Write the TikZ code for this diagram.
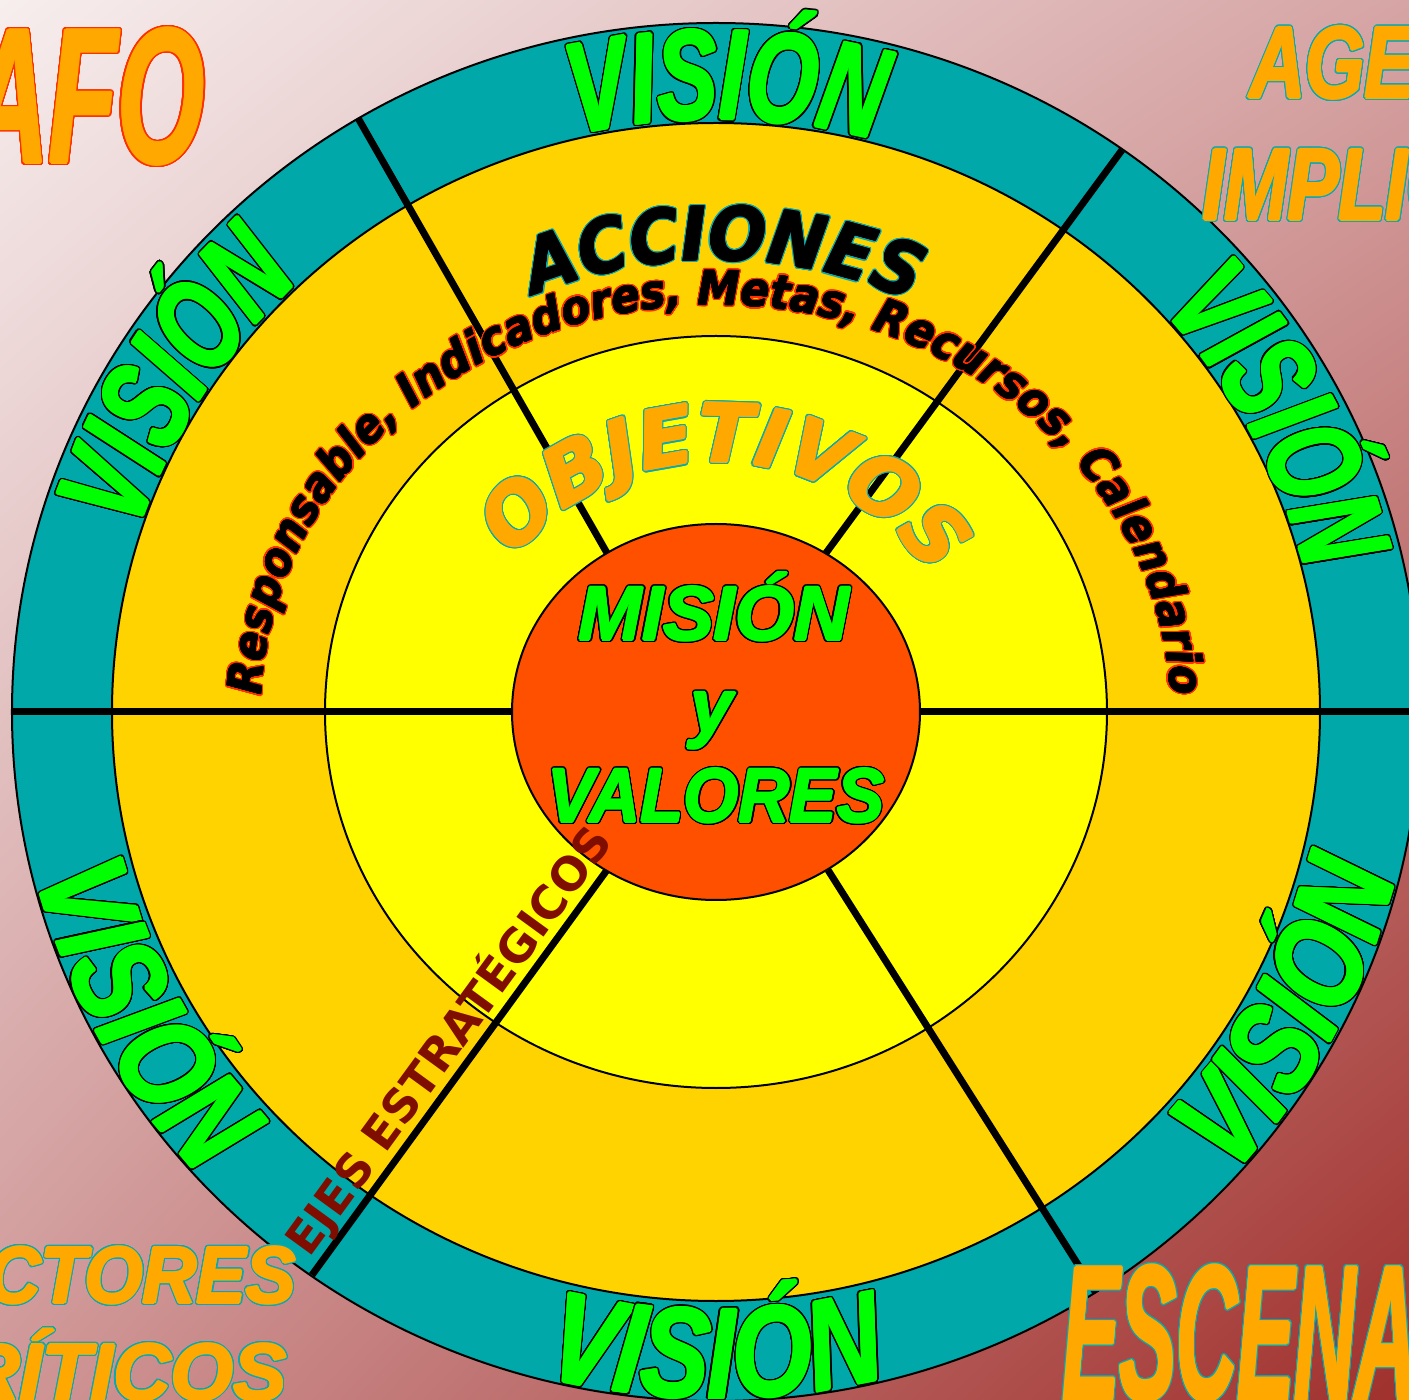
\documentclass[tikz,border=0pt]{standalone}
\usepackage{fontspec}
\usepackage{contour}
\usetikzlibrary{decorations.text,shadings}
\setmainfont{Liberation Sans}
\newfontfamily\lsans{Liberation Sans}
\newfontfamily\visfam[FakeStretch=0.70]{Liberation Sans}
\newfontfamily\visfamb[FakeStretch=0.80]{Liberation Sans}
\newfontfamily\dvs{DejaVu Sans}
\newfontfamily\dvsr[FakeStretch=0.9]{DejaVu Sans}
\newfontfamily\dvsb[FakeStretch=0.92]{DejaVu Sans}
\newfontfamily\cnda[FakeStretch=0.58]{Liberation Sans}
\newfontfamily\cndb[FakeStretch=0.75]{Liberation Sans}
\newfontfamily\cndc[FakeStretch=0.44]{Liberation Sans}
\newfontfamily\cndd[FakeStretch=0.93]{Liberation Sans}
\newfontfamily\cnde[FakeStretch=1.0]{Liberation Sans}
\definecolor{ringteal}{HTML}{00A8AA}
\definecolor{ringgold}{HTML}{FFD300}
\definecolor{ringyellow}{HTML}{FFFF00}
\definecolor{corered}{HTML}{FF5000}
\definecolor{vgreen}{HTML}{00FF00}
\definecolor{lorange}{HTML}{FFA800}
\definecolor{olredc}{HTML}{FF3000}
\definecolor{oltealc}{HTML}{0AA8B0}
\definecolor{ejred}{HTML}{800E00}
\definecolor{bgtl}{HTML}{F7EEEE}
\definecolor{bgtr}{HTML}{D6A4A4}
\definecolor{bgbl}{HTML}{CF9696}
\definecolor{bgbr}{HTML}{A0302C}
% thicken a text in the current colour
\newlength\thkl
\newsavebox\thkbox
\newcommand\thkcopy[2]{\rlap{\kern#1\raisebox{#2}{\usebox\thkbox}}}
\newcommand\thk[2]{\begingroup\sbox\thkbox{#2}\setlength\thkl{#1}%
  \thkcopy{\thkl}{0pt}\thkcopy{-\thkl}{0pt}\thkcopy{0pt}{\thkl}\thkcopy{0pt}{-\thkl}%
  \thkcopy{0.7\thkl}{0.7\thkl}\thkcopy{-0.7\thkl}{0.7\thkl}%
  \thkcopy{0.7\thkl}{-0.7\thkl}\thkcopy{-0.7\thkl}{-0.7\thkl}%
  \usebox\thkbox\endgroup}
\newcommand\olblack[1]{\contourlength{1.3pt}\contour{black}{\thk{1.4pt}{#1}}}
\newcommand\olblackc[1]{\contourlength{1.3pt}\contour{black}{\thk{1.1pt}{#1}}}
\newcommand\olred[1]{\contourlength{1.4pt}\contour{olredc}{\thk{0.5pt}{#1}}}
\newcommand\olteal[1]{\contourlength{1.1pt}\contour{oltealc}{\thk{1.3pt}{#1}}}
\newcommand\oltealthin[1]{\contourlength{1.1pt}\contour{oltealc}{\thk{0.8pt}{#1}}}
\newcommand\vistop[1]{%
  \path[decorate, decoration={text effects along path, text={VISIÓN}, text align=center,
     text effects/.cd, text along path, character command=\olblack,
     characters={text=vgreen, font=\visfam\bfseries\itshape\fontsize{128}{128}\selectfont}}]
    ({#1+38}:607 and 593) arc[start angle={#1+38}, end angle={#1-38}, x radius=607, y radius=593];}
\newcommand\visbot[1]{%
  \path[decorate, decoration={text effects along path, text={VISIÓN}, text align=center,
     text effects/.cd, text along path, character command=\olblack,
     characters={text=vgreen, font=\visfamb\bfseries\itshape\fontsize{128}{128}\selectfont}}]
    ({#1-40}:700 and 686) arc[start angle={#1-40}, end angle={#1+40}, x radius=700, y radius=686];}
\begin{document}
\begin{tikzpicture}[x=1pt,y=1pt,
  ring/.style={draw=black, line width=2pt},
  spoke/.style={line width=7pt, draw=black},
  corner/.style={inner sep=0pt, anchor=base west}]
\useasboundingbox (-716,-688) rectangle (693,712);
\shade[upper left=bgtl, upper right=bgtr, lower left=bgbl, lower right=bgbr]
  (-716,-688) rectangle (693,712);
% rings
\draw[ring, fill=ringteal] (0,0) ellipse[x radius=704, y radius=689];
\draw[ring, fill=ringgold] (0,0) ellipse[x radius=604, y radius=589];
\draw[ring, fill=ringyellow] (0,0) ellipse[x radius=391, y radius=376];
% spokes
\coordinate (lo) at (-704,0); \coordinate (li) at (-204,0);
\coordinate (ro) at (704,0);  \coordinate (ri) at (204,0);
\coordinate (ulo) at (-358,594); \coordinate (uli) at (-109,159);
\coordinate (uro) at (406,562);  \coordinate (uri) at (110,159);
\coordinate (llo) at (-404,-563); \coordinate (lli) at (-109,-158);
\coordinate (lro) at (380,-581); \coordinate (lri) at (112,-158);
\draw[spoke] (lo) -- (li);
\draw[spoke] (ri) -- (ro);
\draw[spoke] (uli) -- (ulo);
\draw[spoke] (uri) -- (uro);
\draw[spoke] (lli) -- (llo);
\draw[spoke] (lri) -- (lro);
% core
\draw[ring, fill=corered] (0,0) ellipse[x radius=204, y radius=188];
% VISION labels
\vistop{89}
\vistop{148}
\vistop{28}
\visbot{208}
\visbot{270}
\visbot{332}
% ACCIONES
\path[decorate, decoration={text effects along path, text={ACCIONES}, text align=center,
   text effects/.cd, text along path, character command=\oltealthin,
   characters={text=black, font=\dvsb\bfseries\itshape\fontsize{74}{74}\selectfont}}]
  (130:468 and 452) arc[start angle=130, end angle=48, x radius=468, y radius=452];
% Responsable ...
\path[decorate, decoration={text effects along path,
   text={Responsable, Indicadores, Metas, Recursos, Calendario}, text align=center,
   text effects/.cd, text along path, character command=\olred,
   characters={text=black, font=\dvsr\bfseries\itshape\fontsize{47}{47}\selectfont}}]
  (180:455 and 407) arc[start angle=180, end angle=0, x radius=455, y radius=407];
% OBJETIVOS
\path[decorate, decoration={text effects along path, text={OBJETIVOS}, text align=center,
   text effects/.cd, text along path, character command=\olteal,
   characters={text=lorange, font=\dvs\bfseries\itshape\fontsize{80}{80}\selectfont}}]
  (150:256 and 250) arc[start angle=150, end angle=25, x radius=256, y radius=250];
% centre text
\node[inner sep=0pt, anchor=base, text=vgreen, font=\lsans\bfseries\itshape\fontsize{76}{76}\selectfont]
  (mision) at (-2,72) {\olblackc{MISIÓN}};
\node[inner sep=0pt, anchor=base, text=vgreen, font=\lsans\bfseries\itshape\fontsize{76}{76}\selectfont]
  (ylet) at (-4,-21) {\olblackc{y}};
\node[inner sep=0pt, anchor=base, text=vgreen, font=\lsans\bfseries\itshape\fontsize{76}{76}\selectfont]
  (valores) at (0,-110) {\scalebox{0.93}[1]{\olblackc{VALORES}}};
% ejes
\node[inner sep=0pt, anchor=base, rotate=53.9, text=ejred, font=\dvs\bfseries\fontsize{46}{46}\selectfont]
  (ejes) at (-254,-338) {EJES ESTRATÉGICOS};
% corner texts
\node[corner, text=lorange, font=\cnda\bfseries\itshape\fontsize{193}{193}\selectfont]
  (afo) at (-748,549) {\contourlength{1.5pt}\contour{olredc}{\thk{1.3pt}{AFO}}};
\node[corner, text=lorange, font=\cndb\bfseries\itshape\fontsize{102}{102}\selectfont]
  (age) at (534,614) {\olteal{AGE}};
\node[corner, text=lorange, font=\cndb\bfseries\itshape\fontsize{102}{102}\selectfont]
  (implic) at (487,492) {\olteal{IMPLIC}};
\node[corner, text=lorange, font=\cndd\bfseries\itshape\fontsize{80}{80}\selectfont]
  (ctores) at (-729,-591) {\olteal{CTORES}};
\node[corner, text=lorange, font=\cnde\bfseries\itshape\fontsize{80}{80}\selectfont]
  (riticos) at (-754,-688) {\olteal{RÍTICOS}};
\node[corner, text=lorange, font=\cndc\bfseries\itshape\fontsize{193}{193}\selectfont]
  (escena) at (347,-688) {\olteal{ESCENA}};
\end{tikzpicture}
\end{document}
